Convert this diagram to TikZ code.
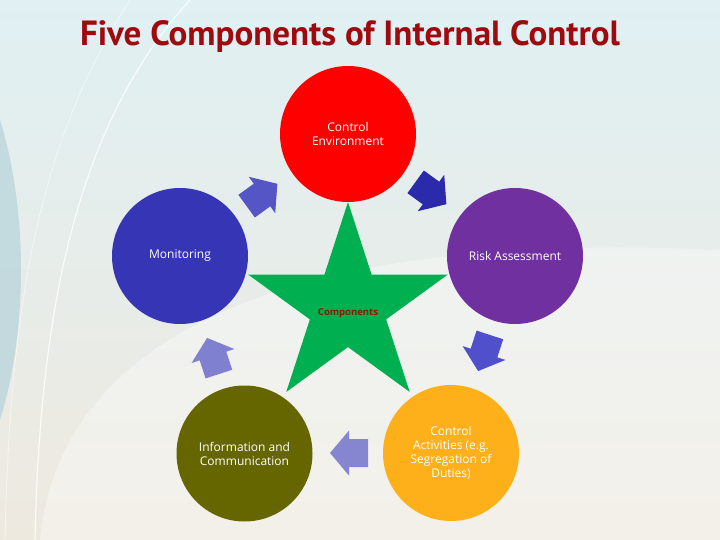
\documentclass[tikz,border=0pt]{standalone}
\usepackage{fontspec}
\setmainfont{Open Sans}
\newfontfamily\titlefont{PT Sans}
\usetikzlibrary{shapes.geometric}
\definecolor{titlered}{HTML}{9E0B0F}
\definecolor{cred}{HTML}{FF0000}
\definecolor{cpurple}{HTML}{7030A0}
\definecolor{cblue}{HTML}{3535B5}
\definecolor{colive}{HTML}{666600}
\definecolor{corange}{HTML}{FDB01A}
\definecolor{cgreen}{HTML}{00B050}
\definecolor{compred}{HTML}{8B1A00}
\definecolor{arA}{HTML}{2A2AAA}
\definecolor{arB}{HTML}{5050CC}
\definecolor{arC}{HTML}{8585D0}
\definecolor{arD}{HTML}{8080D0}
\definecolor{arE}{HTML}{5555C6}
\definecolor{bgtop}{HTML}{E0F0F3}
\definecolor{bgmid}{HTML}{F8F8F6}
\definecolor{bgbot}{HTML}{EEE9DF}
\definecolor{bgleft}{HTML}{B5D2DA}
\newcommand\blkarrow[4]{%
  \fill[#4, shift={(#1,#2)}, rotate=#3]
    (-19,-14) -- (0,-14) -- (0,-22.5) -- (19,0) -- (0,22.5) -- (0,14) -- (-19,14) -- cycle;}
\begin{document}
\begin{tikzpicture}[x=1pt,y=-1pt,
  comp/.style={circle, minimum size=136pt, inner sep=0pt, text=white, align=center,
    font=\fontsize{12}{14}\selectfont}]
\useasboundingbox (0,0) rectangle (720,540);
% background
\shade[top color=bgtop, middle color=bgmid, bottom color=bgbot]
  (0,0) rectangle (720,540);
\fill[bgleft, opacity=0.7] (0,120) .. controls (28,210) and (28,330) .. (0,420) -- cycle;
\fill[white, opacity=0.35] (40,540) .. controls (60,330) and (300,230) .. (720,250) -- (720,540) -- cycle;
\draw[white, line width=1.2pt, opacity=0.8] (190,0) .. controls (80,120) and (40,300) .. (35,540);
\draw[white, line width=0.8pt, opacity=0.5] (130,0) .. controls (40,140) and (10,300) .. (5,540);
% title
\node[font=\titlefont\bfseries\fontsize{35}{40}\selectfont, text=titlered] (title) at (350,37)
  {Five Components of Internal Control};
% circles
\node[comp, fill=cred] (ce) at (348,134) {Control\\Environment};
\node[comp, fill=cpurple] (ra) at (515,256) {Risk Assessment};
\node[comp, fill=cblue] (mo) at (180,256) {Monitoring};
\node[comp, fill=colive] (ic) at (244.5,453.5) {Information and\\Communication};
\node[comp, fill=corange] (ca) at (451,453) {Control\\Activities (e.g.\\Segregation of\\Duties)};
% star
\node[star, star points=5, star point ratio=2.618, minimum size=210pt, inner sep=0pt,
  fill=cgreen] (star) at (348,307) {};
\node[font=\bfseries\fontsize{9.5}{11}\selectfont, text=compred] (lbl) at (348,313) {Components};
% arrows
\blkarrow{431}{193}{-36}{arA}
\blkarrow{484}{353}{252}{arB}
\blkarrow{349}{453}{180}{arC}
\blkarrow{213}{356}{108}{arD}
\blkarrow{262}{195}{36}{arE}
\end{tikzpicture}
\end{document}
